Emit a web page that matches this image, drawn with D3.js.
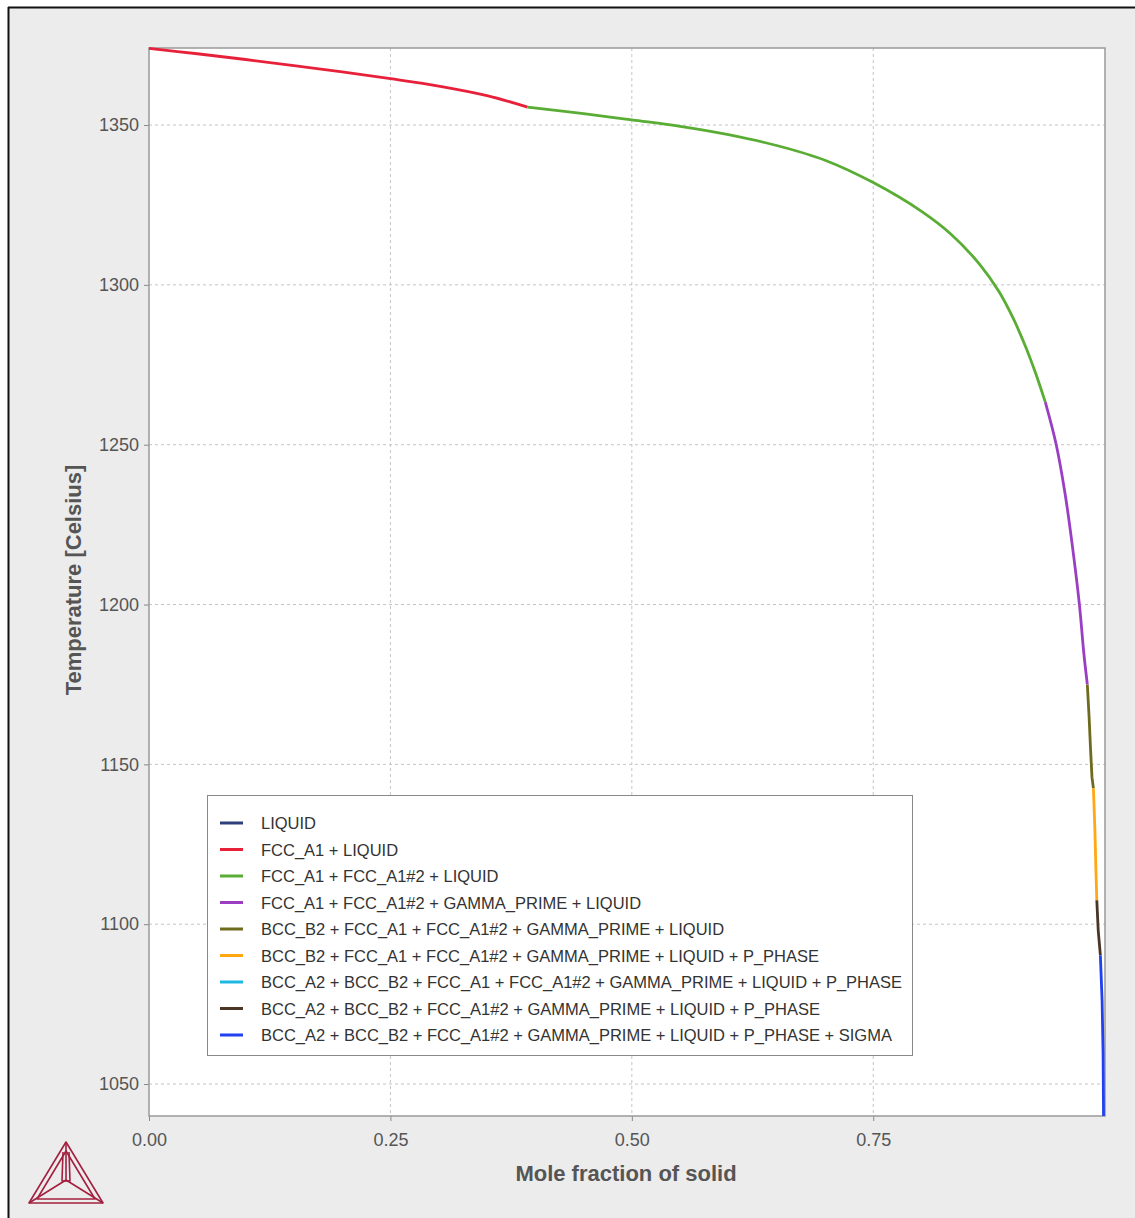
<!DOCTYPE html>
<html>
<head>
<meta charset="utf-8">
<script src="https://cdn.jsdelivr.net/npm/d3@7"></script>
<style>
  body { margin: 0; background: #fff; }
  svg { display: block; font-family: "Liberation Sans", Arial, sans-serif; }
</style>
</head>
<body>
<div id="chart"></div>
<script>
// Scheil solidification curve, one array per phase region: [mole fraction solid, T in C]
const fccLiquid = [[0, 1374], [0.05, 1372.3], [0.1, 1370.5], [0.15, 1368.6], [0.2, 1366.6], [0.25, 1364.5], [0.3, 1362.2], [0.35, 1359.2], [0.392, 1355.6]];
const fcc2Liquid = [[0.392, 1355.6], [0.45, 1353.6], [0.5, 1351.6], [0.55, 1349.6], [0.6, 1347], [0.65, 1343.6], [0.7, 1339], [0.75, 1332], [0.8, 1323], [0.83, 1316], [0.86, 1306.5], [0.88, 1298], [0.895, 1289.5], [0.908, 1280.5], [0.918, 1272.5], [0.9282, 1263.3]];
const gammaLiquid = [[0.9282, 1263.3], [0.9395, 1250], [0.9485, 1235], [0.9555, 1220], [0.9635, 1200], [0.968, 1185], [0.9717, 1175]];
const bccB2Liquid = [[0.9717, 1175], [0.9735, 1165], [0.975, 1155], [0.9765, 1146], [0.978, 1142.5]];
const bccB2PPhase = [[0.978, 1142.5], [0.9795, 1130], [0.9805, 1118], [0.9815, 1107.5]];
const bccA2PPhase = [[0.9815, 1107.5], [0.983, 1098], [0.9852, 1090.3]];
const sigmaPhase = [[0.9852, 1090.3], [0.987, 1076], [0.988, 1060], [0.9885, 1040]];

const legendLabels = [
  "LIQUID",
  "FCC_A1 + LIQUID",
  "FCC_A1 + FCC_A1#2 + LIQUID",
  "FCC_A1 + FCC_A1#2 + GAMMA_PRIME + LIQUID",
  "BCC_B2 + FCC_A1 + FCC_A1#2 + GAMMA_PRIME + LIQUID",
  "BCC_B2 + FCC_A1 + FCC_A1#2 + GAMMA_PRIME + LIQUID + P_PHASE",
  "BCC_A2 + BCC_B2 + FCC_A1 + FCC_A1#2 + GAMMA_PRIME + LIQUID + P_PHASE",
  "BCC_A2 + BCC_B2 + FCC_A1#2 + GAMMA_PRIME + LIQUID + P_PHASE",
  "BCC_A2 + BCC_B2 + FCC_A1#2 + GAMMA_PRIME + LIQUID + P_PHASE + SIGMA"
];
const legendColors = ["#2e3f7c", "#e8213b", "#5aad34", "#9a3fc4", "#6e6b1e", "#ffa812", "#1fb8e2", "#4a3526", "#2140f0"];
const xTicks = [0, 0.25, 0.5, 0.75];
const yTicks = [1050, 1100, 1150, 1200, 1250, 1300, 1350];

// segments drawn in legend order (LIQUID and the cyan one have no visible segment)
const smooth = d3.curveCatmullRom.alpha(0.5);
const segments = [
  { data: fccLiquid, color: legendColors[1], curve: smooth },
  { data: fcc2Liquid, color: legendColors[2], curve: smooth },
  { data: gammaLiquid, color: legendColors[3], curve: smooth },
  { data: bccB2Liquid, color: legendColors[4], curve: d3.curveLinear },
  { data: bccB2PPhase, color: legendColors[5], curve: d3.curveLinear },
  { data: bccA2PPhase, color: legendColors[7], curve: d3.curveLinear },
  { data: sigmaPhase, color: legendColors[8], curve: d3.curveLinear }
];

const W = 1135, H = 1218;
const plot = { left: 149, top: 48, right: 1105, bottom: 1116 };

const svg = d3.select("#chart").append("svg")
  .attr("width", W)
  .attr("height", H);

// panel background + frame
svg.append("rect").attr("x", 8).attr("y", 7).attr("width", W - 8).attr("height", H - 7).attr("fill", "#ececec");
svg.append("line").attr("x1", 8).attr("x2", W).attr("y1", 7.5).attr("y2", 7.5).attr("stroke", "#111").attr("stroke-width", 2);
svg.append("line").attr("x1", 8.5).attr("x2", 8.5).attr("y1", 7).attr("y2", H).attr("stroke", "#111").attr("stroke-width", 2);

const x = d3.scaleLinear().domain([0, 0.99]).range([plot.left, plot.right]);
const y = d3.scaleLinear().domain([1040, 1374.1]).range([plot.bottom, plot.top]);

svg.append("rect")
  .attr("x", plot.left).attr("y", plot.top)
  .attr("width", plot.right - plot.left).attr("height", plot.bottom - plot.top)
  .attr("fill", "#fff");

// grid
const grid = svg.append("g").attr("stroke", "#c4c4c4").attr("stroke-dasharray", "3,3");
grid.selectAll(".gx").data(xTicks.filter(d => d > 0)).join("line")
  .attr("x1", d => x(d)).attr("x2", d => x(d))
  .attr("y1", plot.top).attr("y2", plot.bottom);
grid.selectAll(".gy").data(yTicks).join("line")
  .attr("x1", plot.left).attr("x2", plot.right)
  .attr("y1", d => y(d)).attr("y2", d => y(d));

// axes
const xAxis = d3.axisBottom(x).tickValues(xTicks).tickFormat(d3.format(".2f")).tickSize(5).tickPadding(12);
const yAxis = d3.axisLeft(y).tickValues(yTicks).tickFormat(d3.format("d")).tickSize(5).tickPadding(5);

const gx = svg.append("g").attr("transform", `translate(0,${plot.bottom})`).call(xAxis);
const gy = svg.append("g").attr("transform", `translate(${plot.left},0)`).call(yAxis);
[gx, gy].forEach(g => {
  g.select(".domain").remove();
  g.selectAll(".tick line").attr("stroke", "#888");
  g.selectAll(".tick text").attr("fill", "#555").attr("font-size", 18);
});

// plot border
svg.append("rect")
  .attr("x", plot.left).attr("y", plot.top)
  .attr("width", plot.right - plot.left).attr("height", plot.bottom - plot.top)
  .attr("fill", "none").attr("stroke", "#999").attr("stroke-width", 1.5);

// curve
svg.append("g").selectAll("path").data(segments).join("path")
  .attr("d", d => d3.line().x(p => x(p[0])).y(p => y(p[1])).curve(d.curve)(d.data))
  .attr("fill", "none")
  .attr("stroke", d => d.color)
  .attr("stroke-width", 2.8)
  .attr("stroke-linejoin", "round");

// axis titles
svg.append("text")
  .attr("x", 626).attr("y", 1181)
  .attr("text-anchor", "middle")
  .attr("font-size", 22).attr("font-weight", "bold").attr("fill", "#555")
  .text("Mole fraction of solid");
svg.append("text")
  .attr("transform", "translate(81,580) rotate(-90)")
  .attr("text-anchor", "middle")
  .attr("font-size", 22).attr("font-weight", "bold").attr("fill", "#555")
  .text("Temperature [Celsius]");

// legend
const legend = svg.append("g");
legend.append("rect")
  .attr("x", 207.5).attr("y", 795.5).attr("width", 705).attr("height", 260)
  .attr("fill", "#fff").attr("stroke", "#888").attr("stroke-width", 1);
const items = legend.selectAll(".item").data(legendLabels).join("g")
  .attr("transform", (d, i) => `translate(0,${823 + i * 26.5})`);
items.append("line")
  .attr("x1", 220).attr("x2", 243).attr("y1", 0).attr("y2", 0)
  .attr("stroke", (d, i) => legendColors[i]).attr("stroke-width", 3);
items.append("text")
  .attr("x", 261).attr("y", 6)
  .attr("font-size", 16.5).attr("fill", "#333")
  .text(d => d);

// logo: tetrahedron outline
const logo = svg.append("g").attr("fill", "none").attr("stroke", "#a3203f").attr("stroke-width", 1.6).attr("stroke-linejoin", "round");
const A = [66, 1142], B = [29, 1203], C = [103, 1203], O = [66, 1180];
logo.append("path").attr("d", `M${A}L${B}L${C}Z`);
logo.append("path").attr("d", `M${[66, 1151]}L${[37, 1199]}L${[95, 1199]}Z`);
logo.append("path").attr("d", `M${A}L${O}M${B}L${O}M${C}L${O}`);
logo.append("path").attr("d", `M${[63, 1152]}L${[62, 1181]}L${[70, 1181]}L${[69, 1152]}`);
</script>
</body>
</html>
